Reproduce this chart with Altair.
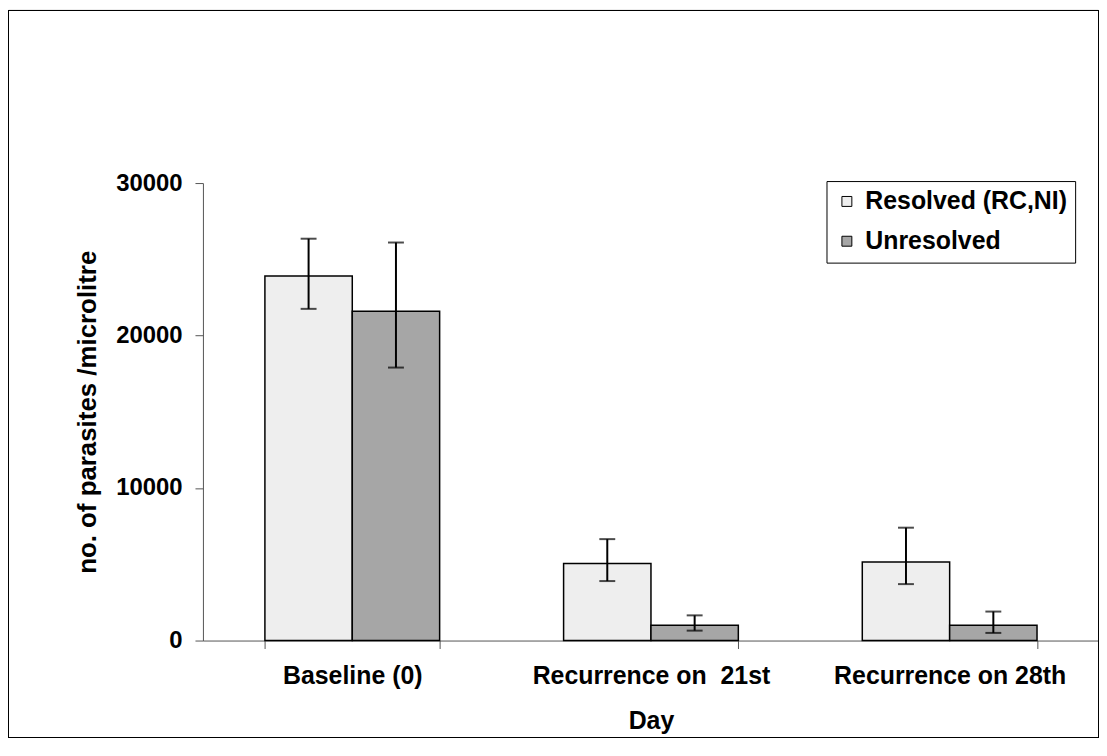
import altair as alt
import pandas as pd

categories = ["Baseline (0)", "Recurrence on  21st", "Recurrence on 28th"]
series = ["Resolved (RC,NI)", "Unresolved"]
resolved_mean = [23900, 5050, 5150]
resolved_low = [21750, 3900, 3700]
resolved_high = [26350, 6650, 7400]
unresolved_mean = [21600, 1000, 1000]
unresolved_low = [17900, 650, 500]
unresolved_high = [26100, 1650, 1900]
y_ticks = [0, 10000, 20000, 30000]

rows = []
for i, c in enumerate(categories):
    rows.append(dict(day=c, series=series[0], value=resolved_mean[i], lo=resolved_low[i], hi=resolved_high[i]))
    rows.append(dict(day=c, series=series[1], value=unresolved_mean[i], lo=unresolved_low[i], hi=unresolved_high[i]))
df = pd.DataFrame(rows)

FONT = "Liberation Sans"
FS = 25
W = 901
H = 460

x_enc = alt.X(
    "day:N", sort=categories,
    scale=alt.Scale(paddingInner=0.415, paddingOuter=0.2075),
    axis=alt.Axis(title="Day", labelAngle=0, tickBand="extent", tickSize=8,
                  labelPadding=15, titlePadding=20, domainColor="#555", tickColor="#555",
                  labelFontSize=FS, titleFontSize=FS, labelLimit=0,
                  labelExpr="replace(datum.label, '  ', '\u00a0 ')"),
)
xo_enc = alt.XOffset("series:N", sort=series, scale=alt.Scale(paddingInner=0, paddingOuter=0))
y_scale = alt.Scale(domain=[0, 30000], nice=False)

bars = alt.Chart(df).mark_bar(stroke="black", strokeWidth=1.5).encode(
    x=x_enc,
    xOffset=xo_enc,
    y=alt.Y("value:Q", scale=y_scale,
            axis=alt.Axis(title="no. of parasites /microlitre", values=y_ticks, format="d",
                          grid=False, tickSize=8, labelPadding=13, titlePadding=15,
                          domainColor="#555", tickColor="#555",
                          labelFontSize=24, titleFontSize=26)),
    fill=alt.Fill("series:N", sort=series,
                  scale=alt.Scale(domain=series, range=["#eeeeee", "#a6a6a6"]),
                  legend=alt.Legend(title=None, orient="none", legendX=627, legendY=-2,
                                    symbolType="square", symbolSize=100,
                                    symbolStrokeColor="black", symbolStrokeWidth=1,
                                    labelFontSize=FS, labelFontWeight="bold", labelFont=FONT,
                                    labelColor="black", labelLimit=0,
                                    strokeColor="black", padding=8, rowPadding=14,
                                    labelOffset=6)),
)

rule = alt.Chart(df).mark_rule(color="black", strokeWidth=2).encode(
    x=alt.X("day:N", sort=categories), xOffset=xo_enc,
    y=alt.Y("lo:Q", scale=y_scale), y2="hi:Q",
)
cap_lo = alt.Chart(df).mark_tick(color="black", orient="horizontal", size=16, thickness=2).encode(
    x=alt.X("day:N", sort=categories), xOffset=xo_enc, y=alt.Y("lo:Q", scale=y_scale),
)
cap_hi = alt.Chart(df).mark_tick(color="black", orient="horizontal", size=16, thickness=2).encode(
    x=alt.X("day:N", sort=categories), xOffset=xo_enc, y=alt.Y("hi:Q", scale=y_scale),
)

frame = alt.Chart(df).mark_rect(fill=None, stroke="black", strokeWidth=1).encode(
    x=alt.value(-195.5), x2=alt.value(W - 0.5), y=alt.value(-173.5), y2=alt.value(H + 97.5),
)

chart = alt.layer(bars, rule, cap_lo, cap_hi, frame).properties(
    width=W, height=H,
    padding={"left": 196, "top": 174, "right": 0, "bottom": 98},
    autosize=alt.AutoSizeParams(type="none"),
).configure(
    font=FONT,
).configure_axis(
    labelFontWeight="bold", titleFontWeight="bold", labelColor="black", titleColor="black",
    labelFont=FONT, titleFont=FONT,
).configure_view(stroke=None)

chart.save("out.html", embed_options={"renderer": "svg", "actions": False})
